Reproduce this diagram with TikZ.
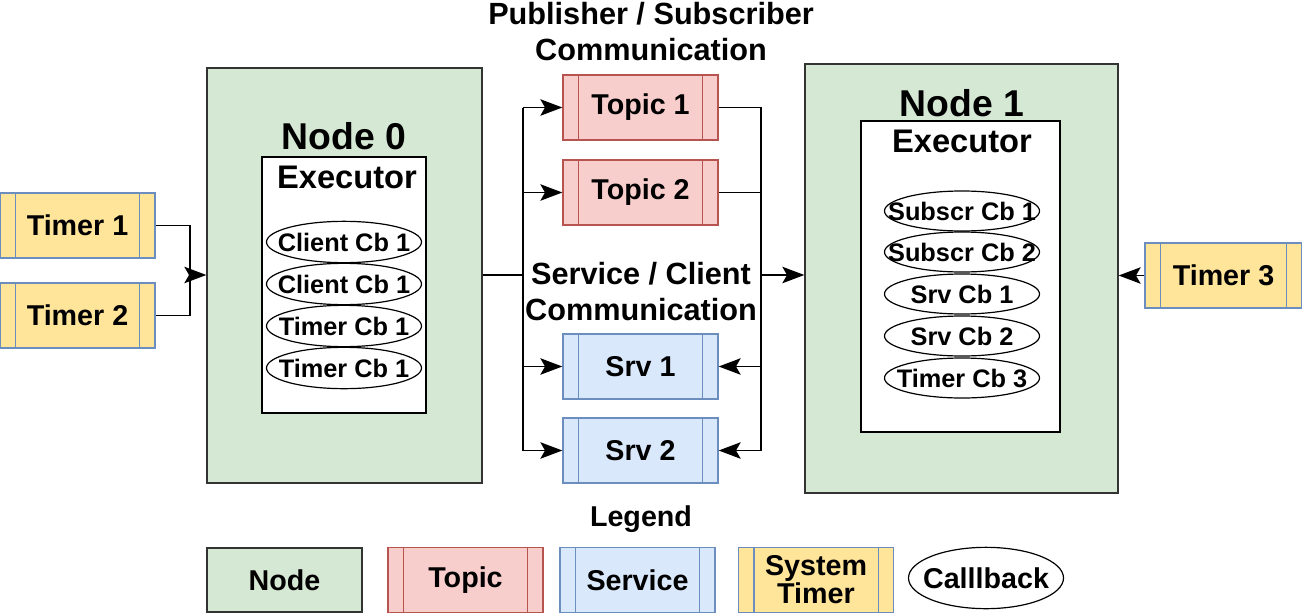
\documentclass[tikz,border=0pt]{standalone}
\usepackage{fontspec}
\setmainfont{Liberation Sans}
\usetikzlibrary{arrows.meta,shapes.geometric}
\definecolor{gfill}{HTML}{D5E8D4}
\definecolor{rfill}{HTML}{F8CECC}\definecolor{rline}{HTML}{B85450}
\definecolor{bfill}{HTML}{DAE8FC}\definecolor{bline}{HTML}{6C8EBF}
\definecolor{yfill}{HTML}{FFE599}
\begin{document}
\begin{tikzpicture}[x=0.75pt,y=-0.75pt,font=\bfseries,
 proc/.style={draw,line width=1pt,minimum width=116.25pt,minimum height=48.75pt,inner sep=0pt,font=\fontsize{21.5}{22}\bfseries,align=center},
 topic/.style={proc,fill=rfill,draw=rline},
 srv/.style={proc,fill=bfill,draw=bline},
 tim/.style={proc,fill=yfill,draw=bline},
 nd/.style={draw=black!80,fill=gfill,line width=1pt,inner sep=0pt},
 ex/.style={draw=black,fill=white,line width=1pt,inner sep=0pt},
 cb/.style={ellipse,draw,fill=white,line width=0.9pt,minimum width=116.25pt,minimum height=31pt,inner sep=0pt,font=\fontsize{19}{21}\bfseries},
 lbl/.style={font=\fontsize{23}{27}\bfseries,align=center,inner sep=0pt},
 arr/.style={line width=1pt,-{Stealth[scale=2.2,inset=1.6pt]}},
 ln/.style={line width=1pt}]
\newcommand\bars[2][]{\draw[#1,line width=1pt] ([xshift=12pt]#2.north west)--([xshift=12pt]#2.south west) ([xshift=-12pt]#2.north east)--([xshift=-12pt]#2.south east);}
\newcommand\zb[1]{\makebox[0pt]{#1}}
\useasboundingbox (0,0) rectangle (1302,614);
% nodes
\node[nd,minimum width=206.25pt,minimum height=311.25pt] (n0) at (344.5,275.5) {};
\node[ex,minimum width=123pt,minimum height=192pt] (e0) at (344,285) {};
\node[lbl,font=\fontsize{28}{30}\bfseries] (n0t) at (344,136) {Node 0};
\node[lbl,font=\fontsize{24.5}{26}\bfseries] (e0t) at (347,177) {Executor};
\node[cb] (c1) at (344,242) {\zb{Client Cb 1}};
\node[cb] (c2) at (344,284) {\zb{Client Cb 1}};
\node[cb] (c3) at (344,326) {\zb{Timer Cb 1}};
\node[cb] (c4) at (344,368) {\zb{Timer Cb 1}};
\node[nd,minimum width=234.75pt,minimum height=321.75pt] (n1) at (961.5,278.5) {};
\node[ex,minimum width=149.25pt,minimum height=233.25pt] (e1) at (960.5,276.5) {};
\node[lbl,font=\fontsize{28}{30}\bfseries] (n1t) at (962,103) {Node 1};
\node[lbl,font=\fontsize{24.5}{26}\bfseries] (e1t) at (962,141) {Executor};
\node[cb,minimum height=30pt] (d1) at (962,211) {\zb{Subscr Cb 1}};
\node[cb,minimum height=30pt] (d2) at (962,252) {\zb{Subscr Cb 2}};
\node[cb,minimum height=30pt] (d3) at (962,294) {\zb{Srv Cb 1}};
\node[cb,minimum height=30pt] (d4) at (962,336) {\zb{Srv Cb 2}};
\node[cb,minimum height=30pt] (d5) at (962,378) {\zb{Timer Cb 3}};
% timers
\node[tim] (t1) at (77.5,225.5) {Timer 1}; \bars[bline]{t1}
\node[tim] (t2) at (77.5,315.5) {Timer 2}; \bars[bline]{t2}
\node[tim,minimum width=117.75pt] (t3) at (1223.5,275.5) {Timer 3}; \bars[bline]{t3}
% topics & services
\node[topic] (p1) at (640.5,107.5) {Topic 1}; \bars[rline]{p1}
\node[topic] (p2) at (640.5,192.5) {Topic 2}; \bars[rline]{p2}
\node[srv] (s1) at (640.5,366.5) {Srv 1}; \bars[bline]{s1}
\node[srv] (s2) at (640.5,450.5) {Srv 2}; \bars[bline]{s2}
\node[lbl] (pub) at (651,32) {Publisher / Subscriber\\Communication};
\node[lbl] (svc) at (641,292) {Service / Client\\Communication};
% connectors
\coordinate (jl) at (190,275);
\coordinate (bl) at (523,275);
\coordinate (br) at (761,275);
\draw[ln] (t1.east) -| (jl) |- (t2.east);
\draw[arr] (jl) -- (n0.west|-jl);
\draw[ln] (n0.east|-bl) -- (bl);
\draw[ln] (bl|-p1) -- (bl|-s2);
\foreach \t in {p1,p2,s1,s2} \draw[arr] (bl|-\t) -- (\t.west);
\draw[ln] (p1.east) -| (br|-s2);
\draw[ln] (p2.east) -- (br|-p2);
\foreach \t in {s1,s2} \draw[arr] (br|-\t) -- (\t.east);
\draw[arr] (br) -- (n1.west|-br);
\draw[arr] (t3.west) -- (n1.east|-t3);
% legend
\node[lbl,font=\fontsize{21.5}{24}\bfseries] (leg) at (641,519) {Legend};
\node[nd,minimum width=116.25pt,minimum height=48pt,font=\fontsize{21.5}{22}\bfseries] (ln) at (284.5,580) {Node};
\node[topic] (lt) at (465.5,580) {Topic}; \bars[rline]{lt}
\node[srv] (ls) at (637.5,580) {Service}; \bars[bline]{ls}
\node[tim,font=\fontsize{21.5}{20}\bfseries] (ly) at (816,580) {System\\Timer}; \bars[bline]{ly}
\node[cb,minimum height=46pt,font=\fontsize{21.5}{22}\bfseries] (lc) at (986,578) {\zb{Calllback}};
\end{tikzpicture}
\end{document}
